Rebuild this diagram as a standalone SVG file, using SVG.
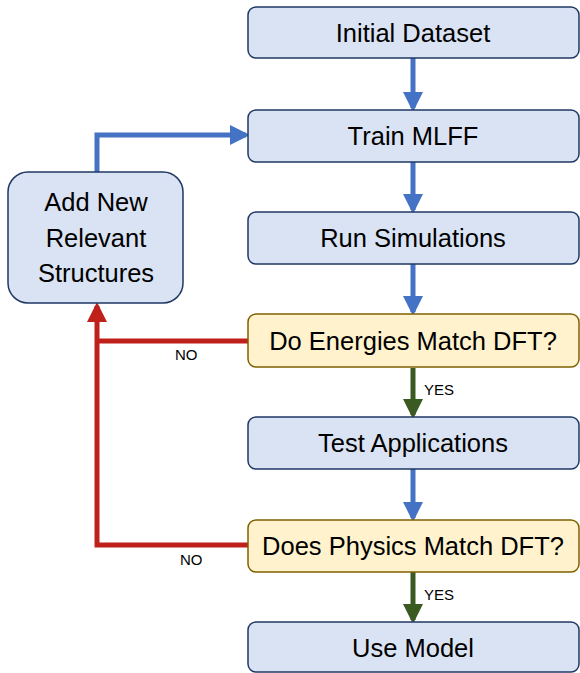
<svg xmlns="http://www.w3.org/2000/svg" width="580" height="673" viewBox="0 0 580 673">
<defs>
<style>
.box{fill:#dae3f3;stroke:#1f3864;stroke-width:1.5}
.dec{fill:#fff2cc;stroke:#7f6000;stroke-width:1.5}
.t{font-family:"Liberation Sans",Arial,sans-serif;font-size:25.5px;fill:#000;text-anchor:middle}
.s{font-family:"Liberation Sans",Arial,sans-serif;font-size:15px;fill:#000}
.blue{stroke:#4472c4;stroke-width:5;fill:none}
.red{stroke:#c0201a;stroke-width:5;fill:none}
.green{stroke:#3a5a22;stroke-width:5;fill:none}
</style>
<marker id="ab" markerWidth="4" markerHeight="4" refX="3.2" refY="2" orient="auto" markerUnits="strokeWidth" viewBox="0 0 4 4"><path d="M0,0 L4,2 L0,4 z" fill="#4472c4"/></marker>
<marker id="ar" markerWidth="4" markerHeight="4" refX="3.2" refY="2" orient="auto" markerUnits="strokeWidth" viewBox="0 0 4 4"><path d="M0,0 L4,2 L0,4 z" fill="#c0201a"/></marker>
<marker id="ag" markerWidth="4" markerHeight="4" refX="3.2" refY="2" orient="auto" markerUnits="strokeWidth" viewBox="0 0 4 4"><path d="M0,0 L4,2 L0,4 z" fill="#3a5a22"/></marker>
</defs>
<g id="connectors">
<path class="blue" d="M413,58 V108" marker-end="url(#ab)"/>
<path class="blue" d="M413,162 V210" marker-end="url(#ab)"/>
<path class="blue" d="M413,264 V312" marker-end="url(#ab)"/>
<path class="green" d="M413,368 V415" marker-end="url(#ag)"/>
<path class="blue" d="M413,469 V518" marker-end="url(#ab)"/>
<path class="green" d="M413,572 V620" marker-end="url(#ag)"/>
<path class="blue" d="M97,172 V135 H246" marker-end="url(#ab)"/>
<path class="red" d="M248,341 H97"/>
<path class="red" d="M248,545 H97 V306" marker-end="url(#ar)"/>
<text class="s" x="175" y="360">NO</text>
<text class="s" x="180" y="565">NO</text>
<text class="s" x="424" y="395">YES</text>
<text class="s" x="424" y="600">YES</text>
</g>
<g id="n1"><rect class="box" x="248" y="7" width="331" height="51" rx="8"/><text class="t" x="413" y="42">Initial Dataset</text></g>
<g id="n2"><rect class="box" x="248" y="110" width="331" height="52" rx="8"/><text class="t" x="413" y="145">Train MLFF</text></g>
<g id="n3"><rect class="box" x="248" y="212" width="331" height="52" rx="8"/><text class="t" x="413" y="247">Run Simulations</text></g>
<g id="n4"><rect class="dec" x="248" y="314" width="331" height="53" rx="8"/><text class="t" x="413" y="350">Do Energies Match DFT?</text></g>
<g id="n5"><rect class="box" x="248" y="417" width="331" height="52" rx="8"/><text class="t" x="413" y="452">Test Applications</text></g>
<g id="n6"><rect class="dec" x="248" y="520" width="331" height="52" rx="8"/><text class="t" x="413" y="555">Does Physics Match DFT?</text></g>
<g id="n7"><rect class="box" x="248" y="622" width="331" height="50" rx="8"/><text class="t" x="413" y="657">Use Model</text></g>
<g id="n8"><rect class="box" x="8" y="172" width="175" height="131" rx="20"/><text class="t" x="96" y="211">Add New</text><text class="t" x="96" y="247">Relevant</text><text class="t" x="96" y="282">Structures</text></g>
</svg>
